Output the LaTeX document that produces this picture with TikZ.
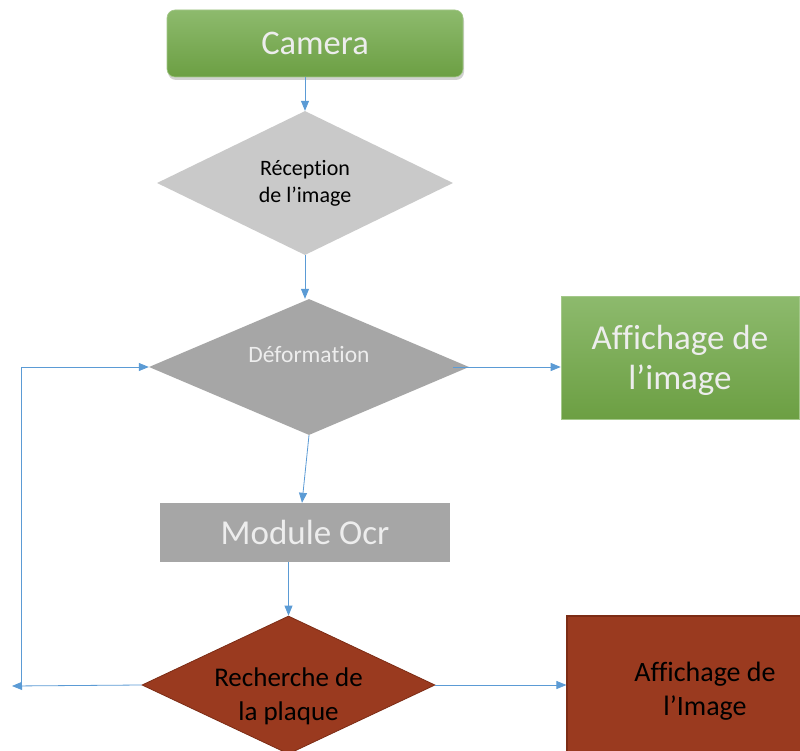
\documentclass[tikz,border=0pt]{standalone}
\usepackage{fontspec}
\setmainfont{Carlito}[Ligatures=NoCommon]
\usetikzlibrary{shapes.geometric,arrows.meta,shadows}
\definecolor{arrowblue}{HTML}{5B9BD5}
\definecolor{gtop}{HTML}{8DBA6D}
\definecolor{gbot}{HTML}{6C9F43}
\definecolor{lgray}{HTML}{C9C9C9}
\definecolor{mgray}{HTML}{A6A6A6}
\definecolor{brownfill}{HTML}{9A3A1F}
\definecolor{browndraw}{HTML}{7C2C15}
\definecolor{lighttext}{HTML}{EDEDED}
\tikzset{
  conn/.style={draw=arrowblue, line width=0.8pt, -{Triangle[length=10pt,width=8pt]}},
  greenbox/.style={rectangle, top color=gtop, bottom color=gbot, draw=gtop!80!white, line width=0.6pt, inner sep=0pt},
  decision/.style={diamond, inner sep=0pt},
  bigtext/.style={font=\fontsize{35}{40}\selectfont, text=lighttext, align=center},
  midtext/.style={font=\fontsize{27}{34}\selectfont, text=black, align=center},
}
\begin{document}
\begin{tikzpicture}[x=1pt,y=-1pt]
\useasboundingbox (0,0) rectangle (800,751);
\fill[white] (0,0) rectangle (800,751);

% Camera
\node[greenbox, rounded corners=8pt, minimum width=296pt, minimum height=67pt,
      drop shadow={shadow xshift=1pt, shadow yshift=-3pt, opacity=0.35},
      font=\fontsize{34.5}{40}\selectfont, text=lighttext] (cam) at (315,43.5) {Camera};

% Reception
\node[decision, fill=lgray, minimum width=296pt, minimum height=144pt,
      font=\fontsize{22}{27}\selectfont, align=center] (rec) at (305,183) {Réception\\de l’image};

% Deformation
\node[decision, fill=mgray, minimum width=320pt, minimum height=136pt,
      label={[yshift=12pt, font=\fontsize{23.5}{27}\selectfont, text=lighttext]center:Déformation}] (def) at (309,367) {};

% Affichage green
\node[greenbox, minimum width=238pt, minimum height=123pt,
      label={[yshift=-3pt, bigtext]center:Affichage de\\l’image}] (aff) at (680,357.5) {};

% Module Ocr
\node[rectangle, fill=mgray, minimum width=290pt, minimum height=59pt, inner sep=0pt, bigtext] (ocr) at (305,532.5) {Module Ocr};

% Recherche de la plaque
\node[decision, fill=brownfill, draw=browndraw, line width=0.8pt, minimum width=293pt, minimum height=138pt,
      label={[yshift=-11pt, midtext]center:Recherche de\\la plaque}] (rech) at (288.5,685) {};

% Affichage brown
\node[rectangle, fill=brownfill, draw=browndraw, line width=1.2pt, minimum width=276pt, minimum height=150pt, inner sep=0pt,
      font=\fontsize{28}{34}\selectfont, align=center] (affb) at (705,691) {Affichage de\\l’Image};

% loop coordinates
\coordinate (lb) at (21,686);
\coordinate (lt) at (21,367);
\coordinate (le) at (12,686);

% connectors
\draw[conn] (rec.north |- cam.south) -- (rec.north);
\draw[conn] (rec.south) -- (rec.south |- def.north);
\draw[conn] ([xshift=-16pt]def.east) -- (aff.west |- def.east);
\draw[conn] (def.south) -- ([xshift=-3pt]ocr.north);
\draw[conn] (rech.north |- ocr.south) -- (rech.north);
\draw[conn] (rech.east) -- (affb.west |- rech.east);
\draw[conn] (rech.west) -- (le);
\draw[conn] (lb) -- (lt) -- (def.west);
\end{tikzpicture}
\end{document}
